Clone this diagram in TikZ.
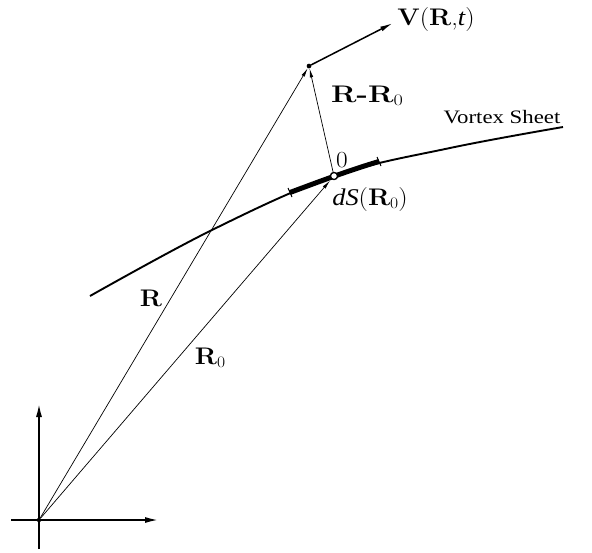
\documentclass[tikz,border=0pt]{standalone}
\usepackage{fontspec}
\newfontfamily\tnr{Liberation Serif}
\usetikzlibrary{arrows.meta}
\newcommand{\subz}{{\fontsize{16}{18}\selectfont\raisebox{-3pt}{0}}}
\begin{document}
\begin{tikzpicture}[x=1pt,y=-1pt,
  thin arrow/.style={line width=0.7pt,-{Latex[length=9pt,width=3.5pt]}},
  axis/.style={line width=2pt,-{Latex[length=14pt,width=6pt]}},
  lbl/.style={inner sep=0pt,font=\fontsize{24}{28}\selectfont,xscale=1.1},
  tlbl/.style={inner sep=0pt,font=\tnr\fontsize{19}{23}\selectfont,xscale=1.2},
  dotpt/.style={circle,fill,inner sep=0pt,minimum size=4.5pt}]
\useasboundingbox (0,0) rectangle (592,552);
% points
\node[dotpt] (O) at (39,520) {};
\node[dotpt] (P) at (309,66) {};
\node[circle,draw,line width=1.2pt,fill=white,inner sep=0pt,minimum size=7pt] (Q) at (334,176) {};
\coordinate (Vt) at (393,23);
\coordinate (yb) at (39,549);
\coordinate (yt) at (39,403);
\coordinate (xl) at (11,520);
\coordinate (xr) at (159,520);
% axes
\draw[axis] (yb) -- (yt);
\draw[axis] (xl) -- (xr);
% vortex sheet
\draw[line width=1.9pt] plot[smooth,tension=0.6] coordinates {(90,296) (212,230) (334,176) (450,148) (563,127)};
% thick element
\coordinate (S1) at (290,192.5);
\coordinate (S2) at (379,161.5);
\draw[line width=5pt] (S1) .. controls (318,182) and (350,170) .. (S2);
\draw[line width=1pt] (288,188) -- (292,197);
\draw[line width=1pt] (377,157) -- (381,166);
% vectors
\draw[thin arrow] (O) -- (P);
\draw[thin arrow,shorten >=2pt] (O) -- (Q);
\draw[thin arrow] (Q) -- (P);
\draw[line width=1.5pt,-{Latex[length=13pt,width=5pt]}] (P) -- (Vt);
\node[dotpt] at (P) {};
\node[circle,draw,line width=1.2pt,fill=white,inner sep=0pt,minimum size=7pt] at (Q) {};
% labels
\node[lbl] (lV) at (436,20) {\textbf{V}(\textbf{R},{\tnr\itshape t})};
\node[lbl,xscale=1.15] (lRR) at (367,96) {\textbf{R-R}\subz};
\node[tlbl] (lVS) at (502,117) {Vortex Sheet};
\node[inner sep=0pt,font=\fontsize{23}{27}\selectfont,xscale=1.1] (l0) at (342,160) {0};
\node[lbl] (ldS) at (370,200) {{\tnr\itshape dS}(\textbf{R}\subz)};
\node[lbl] (lR) at (151,298) {\textbf{R}};
\node[lbl] (lR0) at (210,358) {\textbf{R}\subz};
\end{tikzpicture}
\end{document}
